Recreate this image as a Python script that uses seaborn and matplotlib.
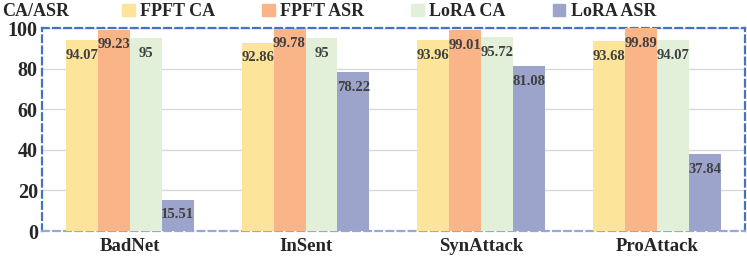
import matplotlib
matplotlib.use("Agg")
import matplotlib.pyplot as plt
import seaborn as sns
import pandas as pd

attacks = ["BadNet", "InSent", "SynAttack", "ProAttack"]
series = ["FPFT CA", "FPFT ASR", "LoRA CA", "LoRA ASR"]
fpft_ca = [94.07, 92.86, 93.96, 93.68]
fpft_asr = [99.23, 99.78, 99.01, 99.89]
lora_ca = [95, 95, 95.72, 94.07]
lora_asr = [15.51, 78.22, 81.08, 37.84]
colors = ["#FCE49A", "#F9B588", "#E2EFD9", "#9DA4CB"]
yticks = [0, 20, 40, 60, 80, 100]

rows = []
for name, vals in zip(series, [fpft_ca, fpft_asr, lora_ca, lora_asr]):
    for a, v in zip(attacks, vals):
        rows.append({"Attack": a, "Series": name, "Value": v})
df = pd.DataFrame(rows)

sns.set_theme(style="white")
plt.rcParams["font.family"] = ["Liberation Serif", "DejaVu Serif"]

fig = plt.figure(figsize=(7.47, 2.6), dpi=100)
ax = fig.add_axes([0.0562, 0.1115, 0.9408, 0.7805])

sns.barplot(data=df, x="Attack", y="Value", hue="Series", order=attacks,
            hue_order=series, palette=colors, width=0.727, gap=0,
            linewidth=0, saturation=1, ax=ax, legend=False, zorder=3)

for cont in ax.containers:
    for bar in cont:
        h = bar.get_height()
        ax.annotate(f"{h:g}", xy=(bar.get_x() + bar.get_width() / 2, h),
                    xytext=(0, -11), textcoords="offset points",
                    ha="center", va="center", fontsize=10.5,
                    fontweight="bold", color="#404040", zorder=5)

ax.set_ylim(0, 100)
ax.set_xlim(-0.5, 3.5)
ax.set_yticks(yticks)
ax.set_yticklabels([str(t) for t in yticks], fontsize=14.5, fontweight="bold")
ax.set_xticks(range(len(attacks)))
ax.set_xticklabels(attacks, fontsize=13.5, fontweight="bold")
ax.tick_params(axis="x", length=0, pad=5)
ax.tick_params(axis="y", length=0, pad=3)
ax.set_xlabel("")
ax.set_ylabel("")
ax.yaxis.grid(True, color="#D9D9D9", linewidth=1, zorder=0)
ax.set_axisbelow(True)

for side, sp in ax.spines.items():
    sp.set_visible(True)
    sp.set_linestyle((0, (3, 2)))
    sp.set_linewidth(1.6)
    sp.set_color("#4472C4")
ax.spines["bottom"].set_color("#8FAADC")

handles = [plt.Rectangle((0, 0), 1, 1, color=c) for c in colors]
fig.legend(handles, series, ncol=4, loc="center", bbox_to_anchor=(0.521, 0.955),
           frameon=False, prop={"weight": "bold", "size": 13},
           handlelength=0.7, handleheight=0.7, handletextpad=0.3,
           columnspacing=2.6)
fig.text(0.003, 0.955, "CA/ASR", fontsize=13, fontweight="bold", va="center", ha="left")

fig.savefig("out.png", dpi=100)
